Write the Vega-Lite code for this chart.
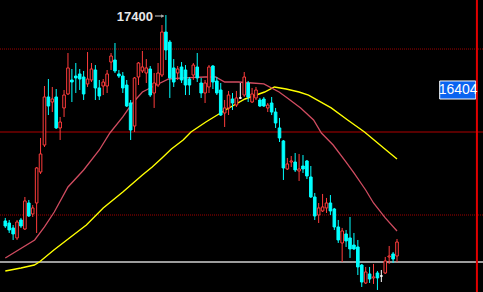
{
  "$schema": "https://vega.github.io/schema/vega-lite/v6.json",
  "width": 483,
  "height": 292,
  "autosize": {"type": "none"},
  "padding": 0,
  "background": "#000000",
  "config": {"view": {"stroke": null}},
  "datasets": {
    "candles": [
      {"i":0,"t":"down","o":14661,"c":14594,"h":14701,"l":14568},
      {"i":1,"t":"down","o":14634,"c":14541,"h":14674,"l":14501},
      {"i":2,"t":"down","o":14568,"c":14488,"h":14607,"l":14408},
      {"i":3,"t":"up","o":14435,"c":14647,"h":14674,"l":14408},
      {"i":4,"t":"down","o":14674,"c":14594,"h":14701,"l":14568},
      {"i":5,"t":"up","o":14554,"c":14927,"h":14980,"l":14541},
      {"i":6,"t":"down","o":14900,"c":14727,"h":14940,"l":14714},
      {"i":7,"t":"up","o":14754,"c":14834,"h":14873,"l":14714},
      {"i":8,"t":"up","o":14900,"c":15366,"h":15379,"l":14501},
      {"i":9,"t":"up","o":15312,"c":15552,"h":15765,"l":15286},
      {"i":10,"t":"up","o":15671,"c":16310,"h":16456,"l":15645},
      {"i":11,"t":"down","o":16310,"c":16190,"h":16549,"l":16070},
      {"i":12,"t":"up","o":16243,"c":16283,"h":16443,"l":16110},
      {"i":13,"t":"down","o":16310,"c":15898,"h":16416,"l":15884},
      {"i":14,"t":"up","o":15898,"c":15977,"h":16044,"l":15738},
      {"i":15,"t":"up","o":16164,"c":16336,"h":16403,"l":16044},
      {"i":16,"t":"up","o":16350,"c":16696,"h":16895,"l":16336},
      {"i":17,"t":"down","o":16536,"c":16509,"h":16682,"l":16243},
      {"i":18,"t":"down","o":16589,"c":16563,"h":16762,"l":16363},
      {"i":19,"t":"down","o":16616,"c":16549,"h":16682,"l":16403},
      {"i":20,"t":"down","o":16576,"c":16350,"h":16656,"l":16270},
      {"i":21,"t":"up","o":16483,"c":16549,"h":16908,"l":16443},
      {"i":22,"t":"up","o":16536,"c":16682,"h":16762,"l":16509},
      {"i":23,"t":"down","o":16669,"c":16430,"h":16735,"l":16270},
      {"i":24,"t":"down","o":16430,"c":16323,"h":16536,"l":16270},
      {"i":25,"t":"up","o":16456,"c":16509,"h":16549,"l":16336},
      {"i":26,"t":"up","o":16456,"c":16616,"h":16669,"l":16363},
      {"i":27,"t":"up","o":16775,"c":16855,"h":16895,"l":16669},
      {"i":28,"t":"down","o":16802,"c":16656,"h":17028,"l":16629},
      {"i":29,"t":"down","o":16616,"c":16589,"h":16669,"l":16563},
      {"i":30,"t":"down","o":16589,"c":16430,"h":16642,"l":16363},
      {"i":31,"t":"down","o":16469,"c":16190,"h":16536,"l":16177},
      {"i":32,"t":"down","o":16230,"c":15871,"h":16270,"l":15738},
      {"i":33,"t":"up","o":15924,"c":16563,"h":16576,"l":15844},
      {"i":34,"t":"up","o":16576,"c":16762,"h":16775,"l":16469},
      {"i":35,"t":"up","o":16656,"c":16709,"h":16922,"l":16629},
      {"i":36,"t":"up","o":16629,"c":16696,"h":16815,"l":16496},
      {"i":37,"t":"down","o":16682,"c":16336,"h":16722,"l":16310},
      {"i":38,"t":"up","o":16363,"c":16496,"h":16629,"l":16164},
      {"i":39,"t":"up","o":16469,"c":16629,"h":16762,"l":16443},
      {"i":40,"t":"up","o":16602,"c":17174,"h":17267,"l":16576},
      {"i":41,"t":"down","o":17174,"c":16935,"h":17400,"l":16802},
      {"i":42,"t":"down","o":17041,"c":16563,"h":17068,"l":16297},
      {"i":43,"t":"down","o":16696,"c":16509,"h":16815,"l":16443},
      {"i":44,"t":"up","o":16629,"c":16682,"h":16722,"l":16536},
      {"i":45,"t":"down","o":16709,"c":16536,"h":16775,"l":16496},
      {"i":46,"t":"down","o":16669,"c":16469,"h":16735,"l":16336},
      {"i":47,"t":"down","o":16549,"c":16469,"h":16576,"l":16336},
      {"i":48,"t":"up","o":16602,"c":16735,"h":16762,"l":16536},
      {"i":49,"t":"down","o":16709,"c":16563,"h":16895,"l":16509},
      {"i":50,"t":"down","o":16496,"c":16363,"h":16563,"l":16297},
      {"i":51,"t":"up","o":16363,"c":16496,"h":16536,"l":16230},
      {"i":52,"t":"up","o":16443,"c":16709,"h":16735,"l":16363},
      {"i":53,"t":"down","o":16722,"c":16509,"h":16735,"l":16416},
      {"i":54,"t":"down","o":16523,"c":16363,"h":16576,"l":16336},
      {"i":55,"t":"down","o":16403,"c":16070,"h":16496,"l":16057},
      {"i":56,"t":"up","o":16097,"c":16164,"h":16270,"l":15911},
      {"i":57,"t":"up","o":16164,"c":16336,"h":16390,"l":16070},
      {"i":58,"t":"down","o":16283,"c":16230,"h":16363,"l":16137},
      {"i":59,"t":"up","o":16203,"c":16297,"h":16390,"l":16177},
      {"i":60,"t":"doji","o":16297,"c":16297,"h":16496,"l":16283},
      {"i":61,"t":"up","o":16336,"c":16576,"h":16642,"l":16310},
      {"i":62,"t":"down","o":16496,"c":16310,"h":16523,"l":16243},
      {"i":63,"t":"up","o":16243,"c":16350,"h":16430,"l":16230},
      {"i":64,"t":"up","o":16297,"c":16403,"h":16443,"l":16270},
      {"i":65,"t":"down","o":16270,"c":16190,"h":16297,"l":16177},
      {"i":66,"t":"down","o":16283,"c":16190,"h":16310,"l":16177},
      {"i":67,"t":"up","o":16164,"c":16203,"h":16230,"l":16110},
      {"i":68,"t":"down","o":16230,"c":16110,"h":16310,"l":16070},
      {"i":69,"t":"down","o":16110,"c":15964,"h":16164,"l":15898},
      {"i":70,"t":"down","o":15898,"c":15765,"h":16031,"l":15711},
      {"i":71,"t":"down","o":15725,"c":15366,"h":15738,"l":15206},
      {"i":72,"t":"up","o":15352,"c":15419,"h":15499,"l":15339},
      {"i":73,"t":"up","o":15445,"c":15459,"h":15525,"l":15379},
      {"i":74,"t":"down","o":15445,"c":15339,"h":15565,"l":15312},
      {"i":75,"t":"up","o":15326,"c":15352,"h":15552,"l":15193},
      {"i":76,"t":"down","o":15392,"c":15352,"h":15538,"l":15299},
      {"i":77,"t":"down","o":15459,"c":15259,"h":15472,"l":15219},
      {"i":78,"t":"down","o":15246,"c":14980,"h":15392,"l":14967},
      {"i":79,"t":"down","o":14980,"c":14727,"h":15033,"l":14674},
      {"i":80,"t":"up","o":14740,"c":14834,"h":14900,"l":14634},
      {"i":81,"t":"up","o":14794,"c":14847,"h":15020,"l":14780},
      {"i":82,"t":"up","o":14834,"c":14900,"h":14967,"l":14767},
      {"i":83,"t":"down","o":14900,"c":14794,"h":15006,"l":14740},
      {"i":84,"t":"down","o":14820,"c":14581,"h":14834,"l":14541},
      {"i":85,"t":"down","o":14581,"c":14408,"h":14674,"l":14368},
      {"i":86,"t":"up","o":14368,"c":14528,"h":14568,"l":14115},
      {"i":87,"t":"down","o":14488,"c":14395,"h":14541,"l":14315},
      {"i":88,"t":"down","o":14435,"c":14288,"h":14714,"l":14169},
      {"i":89,"t":"down","o":14341,"c":14288,"h":14501,"l":14275},
      {"i":90,"t":"down","o":14315,"c":14049,"h":14408,"l":13942},
      {"i":91,"t":"down","o":14075,"c":13849,"h":14089,"l":13783},
      {"i":92,"t":"up","o":13836,"c":13982,"h":14049,"l":13823},
      {"i":93,"t":"down","o":13956,"c":13889,"h":14049,"l":13836},
      {"i":94,"t":"up","o":13903,"c":13916,"h":14089,"l":13823},
      {"i":95,"t":"down","o":13969,"c":13903,"h":13996,"l":13743},
      {"i":96,"t":"doji","o":13929,"c":13929,"h":14009,"l":13849},
      {"i":97,"t":"up","o":13969,"c":14129,"h":14182,"l":13956},
      {"i":98,"t":"up","o":14182,"c":14195,"h":14328,"l":14089},
      {"i":99,"t":"down","o":14222,"c":14155,"h":14248,"l":14102},
      {"i":100,"t":"up","o":14195,"c":14381,"h":14421,"l":14115}
    ],
    "ma1": [
      {"i":0,"v":14169},{"i":7.5,"v":14408},{"i":10,"v":14581},{"i":12.5,"v":14780},
      {"i":16,"v":15113},{"i":20,"v":15339},{"i":24,"v":15605},{"i":26.7,"v":15831},
      {"i":30,"v":16044},{"i":32.5,"v":16230},{"i":35,"v":16376},{"i":38,"v":16456},
      {"i":41.7,"v":16549},{"i":45.5,"v":16563},{"i":51,"v":16576},{"i":53.7,"v":16576},
      {"i":56,"v":16509},{"i":59.5,"v":16509},{"i":63,"v":16496},{"i":66,"v":16483},
      {"i":69.9,"v":16376},{"i":72,"v":16297},{"i":75.4,"v":16164},{"i":78.7,"v":16004},
      {"i":80.7,"v":15831},{"i":83.7,"v":15671},{"i":87,"v":15445},{"i":89,"v":15299},
      {"i":92,"v":15073},{"i":94,"v":14900},{"i":97,"v":14701},{"i":100,"v":14528}
    ],
    "ma2": [
      {"i":0,"v":13996},{"i":4,"v":14036},{"i":7.4,"v":14075},{"i":8.7,"v":14115},
      {"i":12.4,"v":14275},{"i":16.7,"v":14448},{"i":20.7,"v":14607},{"i":25,"v":14834},
      {"i":30,"v":15046},{"i":35,"v":15272},{"i":37.5,"v":15379},{"i":40,"v":15499},
      {"i":42.4,"v":15618},{"i":45.4,"v":15738},{"i":47.4,"v":15844},{"i":51.2,"v":15977},
      {"i":56.2,"v":16137},{"i":61.2,"v":16283},{"i":66.2,"v":16376},{"i":68.7,"v":16443},
      {"i":71.7,"v":16416},{"i":75,"v":16376},{"i":77.4,"v":16336},{"i":83.2,"v":16164},
      {"i":87.4,"v":16004},{"i":91.7,"v":15844},{"i":96.9,"v":15618},{"i":100,"v":15485}
    ],
    "dotted": [{"p":16948},{"p":14740}],
    "mid": [{"p":15844}],
    "white": [{"p":14115}],
    "edge": [{"i":120.4,"p1":13716,"p2":17600}],
    "box": [{"x1":110.9,"x2":120.1,"y1":16523,"y2":16283,"i":115.6,"p":16403,"label":"16404"}],
    "peak": [{"i":37.7,"p":17374,"label":"17400"}],
    "arrow": [{"i1":38.2,"i2":40.4,"p":17387,"ih":40.2}]
  },
  "layer": [
    {
      "data": {"name": "dotted"},
      "mark": {"type": "rule", "stroke": "#a00000", "strokeWidth": 1, "strokeDash": [1, 1]},
      "encoding": {
        "y": {"field": "p", "type": "quantitative", "scale": {"domain": [13716, 17600], "zero": false, "nice": false}, "axis": null}
      }
    },
    {
      "data": {"name": "mid"},
      "mark": {"type": "rule", "stroke": "#b00000", "strokeWidth": 1.2},
      "encoding": {
        "y": {"field": "p", "type": "quantitative", "scale": {"domain": [13716, 17600], "zero": false, "nice": false}, "axis": null}
      }
    },
    {
      "data": {"name": "white"},
      "mark": {"type": "rule", "stroke": "#d0d0d0", "strokeWidth": 1.5},
      "encoding": {
        "y": {"field": "p", "type": "quantitative", "scale": {"domain": [13716, 17600], "zero": false, "nice": false}, "axis": null}
      }
    },
    {
      "data": {"name": "ma2"},
      "mark": {"type": "line", "stroke": "#ffff00", "strokeWidth": 1.4},
      "encoding": {
        "x": {"field": "i", "type": "quantitative", "scale": {"domain": [-0.075, 120.675], "zero": false, "nice": false}, "axis": null},
        "y": {"field": "v", "type": "quantitative", "scale": {"domain": [13716, 17600], "zero": false, "nice": false}, "axis": null}
      }
    },
    {
      "data": {"name": "ma1"},
      "mark": {"type": "line", "stroke": "#d04c60", "strokeWidth": 1.3},
      "encoding": {
        "x": {"field": "i", "type": "quantitative", "scale": {"domain": [-0.075, 120.675], "zero": false, "nice": false}, "axis": null},
        "y": {"field": "v", "type": "quantitative", "scale": {"domain": [13716, 17600], "zero": false, "nice": false}, "axis": null}
      }
    },
    {
      "data": {"name": "candles"},
      "mark": {"type": "rule", "strokeWidth": 1},
      "encoding": {
        "x": {"field": "i", "type": "quantitative", "scale": {"domain": [-0.075, 120.675], "zero": false, "nice": false}, "axis": null},
        "y": {"field": "l", "type": "quantitative", "scale": {"domain": [13716, 17600], "zero": false, "nice": false}, "axis": null},
        "y2": {"field": "h"},
        "stroke": {"field": "t", "type": "nominal", "scale": {"domain": ["up", "down", "doji"], "range": ["#ff3c3c", "#00ffff", "#ffffff"]}, "legend": null}
      }
    },
    {
      "data": {"name": "candles"},
      "mark": {"type": "bar", "size": 2.6, "strokeWidth": 1},
      "encoding": {
        "x": {"field": "i", "type": "quantitative", "scale": {"domain": [-0.075, 120.675], "zero": false, "nice": false}, "axis": null},
        "y": {"field": "o", "type": "quantitative", "scale": {"domain": [13716, 17600], "zero": false, "nice": false}, "axis": null},
        "y2": {"field": "c"},
        "stroke": {"field": "t", "type": "nominal", "scale": {"domain": ["up", "down", "doji"], "range": ["#ff3c3c", "#00ffff", "#ffffff"]}, "legend": null},
        "fill": {"field": "t", "type": "nominal", "scale": {"domain": ["up", "down", "doji"], "range": ["#000000", "#00ffff", "#ffffff"]}, "legend": null}
      }
    },
    {
      "data": {"name": "box"},
      "mark": {"type": "rect", "fill": "#0a64f0", "stroke": "#ffffff", "strokeWidth": 1},
      "encoding": {
        "x": {"field": "x1", "type": "quantitative", "scale": {"domain": [-0.075, 120.675], "zero": false, "nice": false}, "axis": null},
        "x2": {"field": "x2"},
        "y": {"field": "y1", "type": "quantitative", "scale": {"domain": [13716, 17600], "zero": false, "nice": false}, "axis": null},
        "y2": {"field": "y2"}
      }
    },
    {
      "data": {"name": "edge"},
      "mark": {"type": "rule", "stroke": "#e00000", "strokeWidth": 2},
      "encoding": {
        "x": {"field": "i", "type": "quantitative", "scale": {"domain": [-0.075, 120.675], "zero": false, "nice": false}, "axis": null},
        "y": {"field": "p1", "type": "quantitative", "scale": {"domain": [13716, 17600], "zero": false, "nice": false}, "axis": null},
        "y2": {"field": "p2"}
      }
    },
    {
      "data": {"name": "box"},
      "mark": {"type": "text", "fill": "#ffffff", "font": "Liberation Sans", "fontSize": 14, "align": "center", "baseline": "middle"},
      "encoding": {
        "x": {"field": "i", "type": "quantitative", "scale": {"domain": [-0.075, 120.675], "zero": false, "nice": false}, "axis": null},
        "y": {"field": "p", "type": "quantitative", "scale": {"domain": [13716, 17600], "zero": false, "nice": false}, "axis": null},
        "text": {"field": "label"}
      }
    },
    {
      "data": {"name": "peak"},
      "mark": {"type": "text", "fill": "#e8e8e8", "font": "Liberation Sans", "fontSize": 13, "fontWeight": "bold", "align": "right", "baseline": "middle"},
      "encoding": {
        "x": {"field": "i", "type": "quantitative", "scale": {"domain": [-0.075, 120.675], "zero": false, "nice": false}, "axis": null},
        "y": {"field": "p", "type": "quantitative", "scale": {"domain": [13716, 17600], "zero": false, "nice": false}, "axis": null},
        "text": {"field": "label"}
      }
    },
    {
      "data": {"name": "arrow"},
      "mark": {"type": "rule", "stroke": "#c8c8c8", "strokeWidth": 1},
      "encoding": {
        "x": {"field": "i1", "type": "quantitative", "scale": {"domain": [-0.075, 120.675], "zero": false, "nice": false}, "axis": null},
        "x2": {"field": "i2"},
        "y": {"field": "p", "type": "quantitative", "scale": {"domain": [13716, 17600], "zero": false, "nice": false}, "axis": null}
      }
    },
    {
      "data": {"name": "arrow"},
      "mark": {"type": "point", "shape": "triangle-right", "filled": true, "fill": "#c8c8c8", "size": 14},
      "encoding": {
        "x": {"field": "ih", "type": "quantitative", "scale": {"domain": [-0.075, 120.675], "zero": false, "nice": false}, "axis": null},
        "y": {"field": "p", "type": "quantitative", "scale": {"domain": [13716, 17600], "zero": false, "nice": false}, "axis": null}
      }
    }
  ]
}
